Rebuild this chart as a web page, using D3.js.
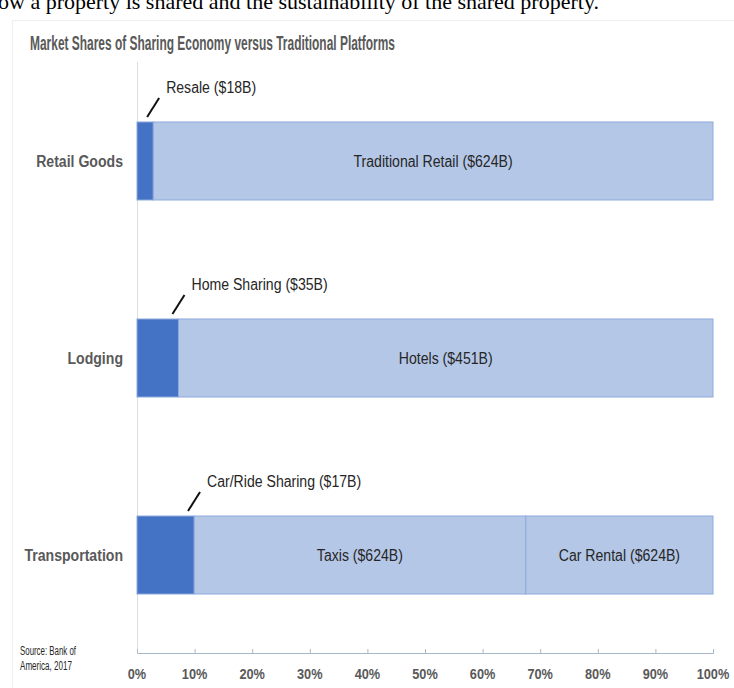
<!DOCTYPE html>
<html lang="en">
<head>
  <meta charset="UTF-8" />
  <title>Market Shares of Sharing Economy versus Traditional Platforms</title>
  <script src="https://d3js.org/d3.v7.min.js"></script>
  <style>
    body { margin: 0; background: white; }
    svg { display: block; }
    .narrow { font-family: "Liberation Sans", Arial, sans-serif; }
  </style>
</head>
<body>
<div id="chart"></div>
<script>
  // data (shares in % of each market)
  var categories = ["Retail Goods", "Lodging", "Transportation"];
  var sharing = [
    {cat: "Retail Goods", label: "Resale ($18B)", value: 2.8},
    {cat: "Lodging", label: "Home Sharing ($35B)", value: 7.2},
    {cat: "Transportation", label: "Car/Ride Sharing ($17B)", value: 9.9}
  ];
  var traditional = [
    {cat: "Retail Goods", label: "Traditional Retail ($624B)", value: 97.2},
    {cat: "Lodging", label: "Hotels ($451B)", value: 92.8},
    {cat: "Transportation", label: "Taxis ($624B)", value: 57.6},
    {cat: "Transportation", label: "Car Rental ($624B)", value: 32.5}
  ];
  var xTicks = [0, 10, 20, 30, 40, 50, 60, 70, 80, 90, 100];

  var W = 734, H = 688;
  var svg = d3.select("#chart").append("svg")
    .attr("width", W).attr("height", H);

  // squeeze a text horizontally so it looks like a narrow font
  function squeeze(sel, k) {
    sel.each(function () {
      var len = this.getComputedTextLength();
      d3.select(this).attr("textLength", len * k).attr("lengthAdjust", "spacingAndGlyphs");
    });
  }

  // cut-off line of body text above the figure
  svg.append("text")
    .attr("x", -2).attr("y", 9)
    .style("font-family", "'Liberation Serif', 'Times New Roman', serif")
    .style("font-size", "22px")
    .style("fill", "#000")
    .text("ow a property is shared and the sustainability of the shared property.");

  // faint frame of the figure
  svg.append("rect")
    .attr("x", 12.5).attr("y", 20.5)
    .attr("width", 740).attr("height", 700)
    .style("fill", "none").style("stroke", "#eeeeee");

  // title
  svg.append("text")
    .attr("class", "narrow")
    .attr("x", 30).attr("y", 50)
    .attr("textLength", 365).attr("lengthAdjust", "spacingAndGlyphs")
    .style("font-size", "20px").style("font-weight", "bold")
    .style("fill", "#595959")
    .text("Market Shares of Sharing Economy versus Traditional Platforms");

  var x = d3.scaleLinear().domain([0, 100]).range([137, 713]);
  var y = d3.scaleBand().domain(categories).range([62, 654])
    .paddingInner(0.604).paddingOuter(0.3045);

  // vertical baseline
  svg.append("line")
    .attr("x1", 137.5).attr("x2", 137.5)
    .attr("y1", 62).attr("y2", 653)
    .style("stroke", "#dddddd");

  // x axis
  var xAxis = svg.append("g")
    .attr("transform", "translate(0,653)")
    .call(d3.axisTop(x).tickValues(xTicks).tickSize(4).tickSizeOuter(4).tickFormat(function (d) { return ""; }));
  xAxis.selectAll("path, line").style("stroke", "#a8b8c8");
  svg.selectAll(".xlab")
    .data(xTicks).enter().append("text")
    .attr("class", "narrow")
    .attr("x", function (d) { return x(d); })
    .attr("y", 679)
    .attr("text-anchor", "middle")
    .style("font-size", "15px").style("font-weight", "bold")
    .style("fill", "#595959")
    .text(function (d) { return d + "%"; })
    .call(squeeze, 0.85);

  // category labels
  svg.selectAll(".cat")
    .data(categories).enter().append("text")
    .attr("class", "narrow")
    .attr("x", 123)
    .attr("y", function (d) { return y(d) + y.bandwidth() / 2; })
    .attr("dy", "0.35em")
    .attr("text-anchor", "end")
    .style("font-size", "16px").style("font-weight", "bold")
    .style("fill", "#595959")
    .text(function (d) { return d; })
    .call(squeeze, 0.88);

  // traditional segments stacked after the sharing segment
  var start = {};
  sharing.forEach(function (d) { start[d.cat] = d.value; });
  traditional.forEach(function (d) {
    d.x0 = start[d.cat];
    d.x1 = d.x0 + d.value;
    start[d.cat] = d.x1;
  });

  svg.selectAll(".trad")
    .data(traditional).enter().append("rect")
    .attr("x", function (d) { return x(d.x0); })
    .attr("y", function (d) { return y(d.cat); })
    .attr("width", function (d) { return x(d.x1) - x(d.x0); })
    .attr("height", y.bandwidth())
    .style("fill", "#b4c7e7")
    .style("stroke", "#8faadc")
    .style("stroke-width", 1);

  svg.selectAll(".tradlab")
    .data(traditional).enter().append("text")
    .attr("class", "narrow")
    .attr("x", function (d) { return (x(d.x0) + x(d.x1)) / 2; })
    .attr("y", function (d) { return y(d.cat) + y.bandwidth() / 2; })
    .attr("dy", "0.35em")
    .attr("text-anchor", "middle")
    .style("font-size", "16px")
    .style("fill", "#262626")
    .text(function (d) { return d.label; })
    .call(squeeze, 0.88);

  svg.selectAll(".share")
    .data(sharing).enter().append("rect")
    .attr("x", x(0))
    .attr("y", function (d) { return y(d.cat); })
    .attr("width", function (d) { return x(d.value) - x(0); })
    .attr("height", y.bandwidth())
    .style("fill", "#4472c4")
    .style("stroke", "#8faadc")
    .style("stroke-width", 1);

  // leader lines and callout labels
  svg.selectAll(".lead")
    .data(sharing).enter().append("line")
    .attr("x1", function (d) { return x(d.value) - 6; })
    .attr("y1", function (d) { return y(d.cat) - 5; })
    .attr("x2", function (d) { return x(d.value) + 6; })
    .attr("y2", function (d) { return y(d.cat) - 24; })
    .style("stroke", "#111").style("stroke-width", 2);

  svg.selectAll(".sharelab")
    .data(sharing).enter().append("text")
    .attr("class", "narrow")
    .attr("x", function (d) { return x(d.value) + 13; })
    .attr("y", function (d) { return y(d.cat) - 35; })
    .attr("dy", "0.35em")
    .style("font-size", "16px")
    .style("fill", "#262626")
    .text(function (d) { return d.label; })
    .call(squeeze, 0.88);

  // source note
  svg.append("text")
    .attr("class", "narrow")
    .attr("x", 20).attr("y", 655)
    .attr("textLength", 56).attr("lengthAdjust", "spacingAndGlyphs")
    .style("font-size", "12px").style("fill", "#262626")
    .text("Source: Bank of");
  svg.append("text")
    .attr("class", "narrow")
    .attr("x", 20).attr("y", 670)
    .attr("textLength", 52).attr("lengthAdjust", "spacingAndGlyphs")
    .style("font-size", "12px").style("fill", "#262626")
    .text("America, 2017");
</script>
</body>
</html>
